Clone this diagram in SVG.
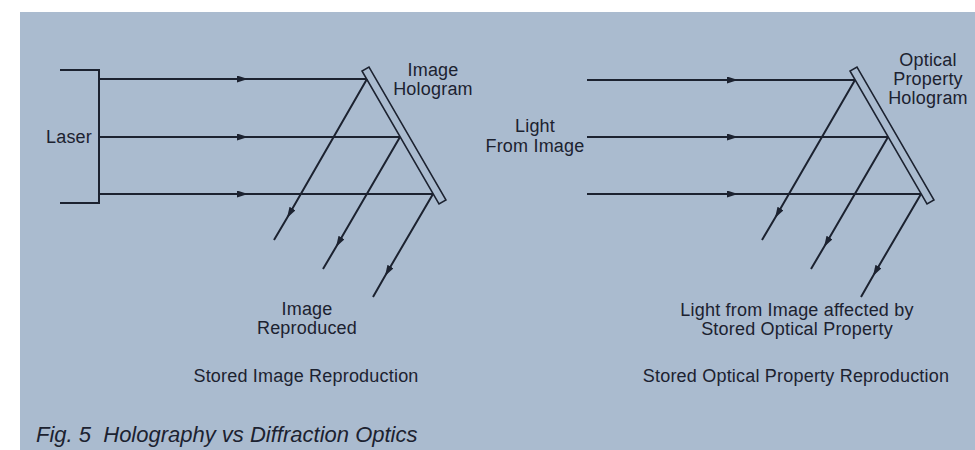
<svg xmlns="http://www.w3.org/2000/svg" width="975" height="450" viewBox="0 0 975 450">
<style>
.ray{fill:none;stroke:#1c2230;stroke-width:2}
.holo{fill:none;stroke:#1c2230;stroke-width:1.5}
.t{font-family:"Liberation Sans",Arial,sans-serif;font-size:18px;letter-spacing:0.2px;fill:#1c2230;text-anchor:middle}
.cap{font-family:"Liberation Sans",Arial,sans-serif;font-size:22px;font-style:italic;fill:#1c2230}
</style>
<defs>
<marker id="ah" markerUnits="userSpaceOnUse" markerWidth="12" markerHeight="8" refX="11" refY="3.5" orient="auto">
<path d="M0,0 L11,3.5 L0,7 z" fill="#1c2230"/>
</marker>
</defs>
<rect x="0" y="0" width="975" height="450" fill="#ffffff"/>
<rect x="20" y="12" width="955" height="438" fill="#aabbcf"/>

<g id="laser">
<path class="ray" d="M60,70 H99 V203 H60"/>
<text class="t" x="69" y="143">Laser</text>
</g>
<g id="image-hologram">
<polygon class="holo" points="362,71 439,204 446,200 369,67"/>
<text class="t" x="433" y="76">Image</text>
<text class="t" x="433" y="95">Hologram</text>
</g>
<g id="image-reproduced">
<text class="t" x="307" y="315">Image</text>
<text class="t" x="307" y="334">Reproduced</text>
</g>
<g id="left-title">
<text class="t" x="306" y="382">Stored Image Reproduction</text>
</g>

<g id="light-from-image">
<text class="t" x="535" y="132">Light</text>
<text class="t" x="535" y="152">From Image</text>
</g>
<g id="optical-property-hologram">
<polygon class="holo" points="850,71 927,204 934,200 857,67"/>
<text class="t" x="928" y="66">Optical</text>
<text class="t" x="928" y="85">Property</text>
<text class="t" x="928" y="104">Hologram</text>
</g>
<g id="light-affected">
<text class="t" x="797" y="316">Light from Image affected by</text>
<text class="t" x="797" y="335">Stored Optical Property</text>
</g>
<g id="right-title">
<text class="t" x="796" y="382">Stored Optical Property Reproduction</text>
</g>

<g id="connectors">
<path class="ray" marker-mid="url(#ah)" d="M99,79 L248,79 L367,79"/>
<path class="ray" marker-mid="url(#ah)" d="M99,137 L248,137 L400,137"/>
<path class="ray" marker-mid="url(#ah)" d="M99,194 L248,194 L433,194"/>
<path class="ray" marker-mid="url(#ah)" d="M367,79 L287,218 L274,240"/>
<path class="ray" marker-mid="url(#ah)" d="M400,137 L336,247 L323,269"/>
<path class="ray" marker-mid="url(#ah)" d="M433,194 L385,276 L373,297"/>

<path class="ray" marker-mid="url(#ah)" d="M587,80 L738,80 L855,80"/>
<path class="ray" marker-mid="url(#ah)" d="M587,137 L738,137 L888,137"/>
<path class="ray" marker-mid="url(#ah)" d="M587,194 L738,194 L921,194"/>
<path class="ray" marker-mid="url(#ah)" d="M855,80 L775,218 L762,240"/>
<path class="ray" marker-mid="url(#ah)" d="M888,137 L824,247 L811,269"/>
<path class="ray" marker-mid="url(#ah)" d="M921,194 L873,276 L861,297"/>
</g>

<text class="cap" x="36" y="442" xml:space="preserve">Fig. 5  Holography vs Diffraction Optics</text>
</svg>
